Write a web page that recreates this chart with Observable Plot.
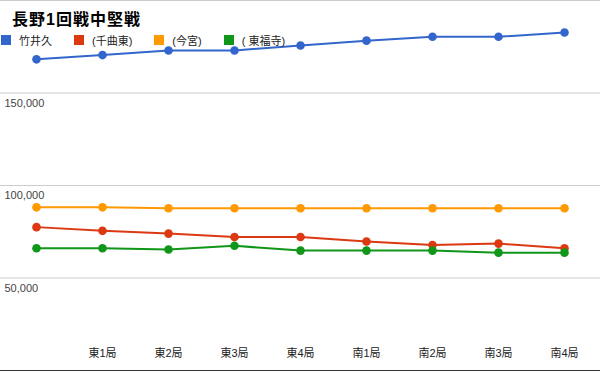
<!DOCTYPE html>
<html>
<head>
<meta charset="utf-8">
<script src="https://cdn.jsdelivr.net/npm/d3@7"></script>
<script src="https://cdn.jsdelivr.net/npm/@observablehq/plot@0.6"></script>
<style>
  html, body { margin: 0; padding: 0; background: #fff; }
  #wrap { position: relative; width: 600px; height: 371px; overflow: hidden;
          font-family: "Liberation Sans", Arial, "Noto Sans CJK JP", sans-serif; }
  #title { position: absolute; left: 12px; top: 6px; font-size: 16px; font-weight: bold; color: #000;
           letter-spacing: 1px; white-space: nowrap; }
  #legend { position: absolute; left: 0px; top: 32px; display: flex; align-items: center; white-space: nowrap; }
  .item { display: flex; align-items: center; font-size: 11px; color: #222; }
  .sw { width: 10px; height: 10px; margin-left: 1px; margin-right: 8px; }
</style>
</head>
<body>
<div id="wrap">
  <div id="chart"></div>
  <div id="title"></div>
  <div id="legend"></div>
</div>
<script>
const title = "長野1回戦中堅戦";
const rounds = ["", "東1局", "東2局", "東3局", "東4局", "南1局", "南2局", "南3局", "南4局"];
const names = ["竹井久", "(千曲東)", "(今宮)", "( 東福寺)"];
const colors = ["#3366cc", "#dc3912", "#ff9900", "#109618"];
const takei = [168200, 170500, 173000, 173000, 175700, 178300, 180400, 180400, 182700];
const chikuma = [77500, 75500, 74000, 72200, 72200, 69700, 67800, 68600, 66100];
const imamiya = [88200, 88200, 87700, 87700, 87700, 87700, 87700, 87700, 87700];
const toufukuji = [66100, 66100, 65400, 67400, 64800, 64800, 64800, 63700, 63700];
const labelTicks = [50000, 100000, 150000];
const gridTicks = [50000, 100000, 150000, 200000];

const series = [takei, chikuma, imamiya, toufukuji];
const data = names.flatMap((n, s) => series[s].map((v, i) => ({name: n, i, v})));

const chart = Plot.plot({
  width: 600, height: 371,
  marginTop: 0, marginRight: 0, marginBottom: 1, marginLeft: 0,
  style: {fontFamily: '"Liberation Sans", Arial, "Noto Sans CJK JP", sans-serif', background: "transparent"},
  x: {type: "point", domain: d3.range(rounds.length), padding: 0.5, axis: null},
  y: {domain: [0, 200000], axis: null},
  color: {domain: names, range: colors},
  marks: [
    Plot.ruleY(gridTicks, {stroke: "#cccccc", strokeWidth: 1}),
    Plot.ruleY([0], {stroke: "#333333", strokeWidth: 1}),
    Plot.text(labelTicks, {y: d => d, text: d => d3.format(",")(d), frameAnchor: "left", textAnchor: "start",
      dx: 4, dy: 10, fill: "#444", fontSize: 11}),
    Plot.text(d3.range(rounds.length), {x: d => d, text: d => rounds[d], frameAnchor: "bottom",
      dy: -13.5, fill: "#222", fontSize: 11}),
    Plot.line(data, {x: "i", y: "v", z: "name", stroke: "name", strokeWidth: 2}),
    Plot.dot(data, {x: "i", y: "v", fill: "name", r: 4.3})
  ]
});
document.getElementById("chart").appendChild(chart);

document.getElementById("title").textContent = title;
const legend = document.getElementById("legend");
names.forEach((n, k) => {
  const it = document.createElement("div");
  it.className = "item";
  it.style.marginRight = "21px";
  const sw = document.createElement("div");
  sw.className = "sw";
  sw.style.background = colors[k];
  const tx = document.createElement("span");
  tx.textContent = n;
  it.appendChild(sw); it.appendChild(tx);
  legend.appendChild(it);
});
</script>
</body>
</html>
